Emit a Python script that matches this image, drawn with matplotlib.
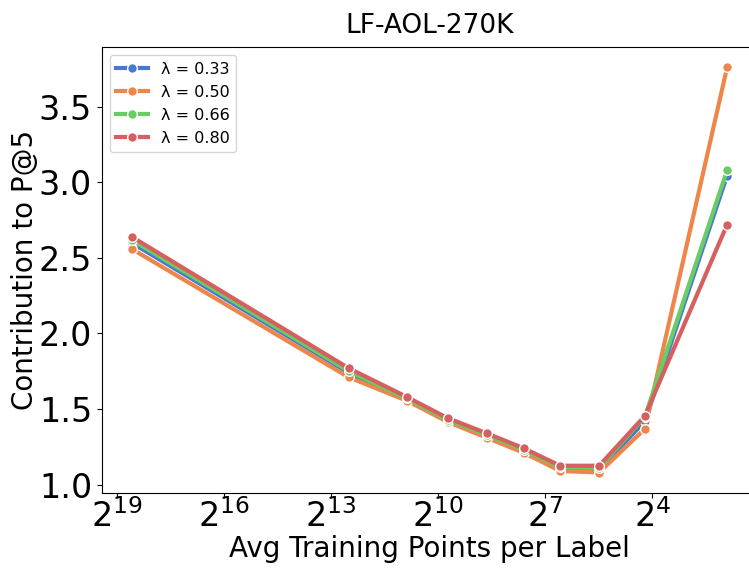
import matplotlib
matplotlib.use("Agg")
import matplotlib.pyplot as plt
from matplotlib.ticker import FixedLocator, LogFormatterMathtext, NullLocator
import numpy as np

# avg training points per label (bin centres)
x_pts = [392000, 5800, 1880, 850, 400, 194, 96, 45, 18.5, 3.76]

lambdas = ["0.33", "0.50", "0.66", "0.80"]
p5 = {
    "0.33": [2.60, 1.74, 1.565, 1.425, 1.32, 1.225, 1.11, 1.10, 1.42, 3.045],
    "0.50": [2.56, 1.71, 1.555, 1.415, 1.31, 1.21, 1.09, 1.08, 1.37, 3.76],
    "0.66": [2.62, 1.75, 1.57, 1.43, 1.33, 1.23, 1.115, 1.11, 1.45, 3.08],
    "0.80": [2.64, 1.77, 1.58, 1.44, 1.34, 1.24, 1.125, 1.125, 1.455, 2.72],
}
colors = ["#4878d0", "#ee854a", "#6acc64", "#d65f5f"]
xticks = [2**19, 2**16, 2**13, 2**10, 2**7, 2**4]

fig = plt.figure(figsize=(7.49, 5.69), dpi=100)
ax = fig.add_axes([0.136, 0.134, 0.8745, 0.783])

for lam, c in zip(lambdas, colors):
    ax.plot(x_pts, p5[lam], color=c, lw=3, marker="o", ms=7,
            mec="white", mew=1, label="λ = " + lam)

ax.set_xscale("log", base=2)
ax.invert_xaxis()
ax.xaxis.set_major_locator(FixedLocator(xticks))
ax.xaxis.set_major_formatter(LogFormatterMathtext(base=2))
ax.xaxis.set_minor_locator(NullLocator())
ax.set_yticks([1.0, 1.5, 2.0, 2.5, 3.0, 3.5])
ax.tick_params(labelsize=24)
ax.tick_params(axis="x", pad=1)

ax.set_xlabel("Avg Training Points per Label", fontsize=20, labelpad=1)
ax.set_ylabel("Contribution to P@5", fontsize=20, labelpad=0)
ax.set_title("LF-AOL-270K", fontsize=19, pad=10)
ax.legend(loc="upper left", fontsize=11.5)

fig.savefig("out.png", dpi=100)
